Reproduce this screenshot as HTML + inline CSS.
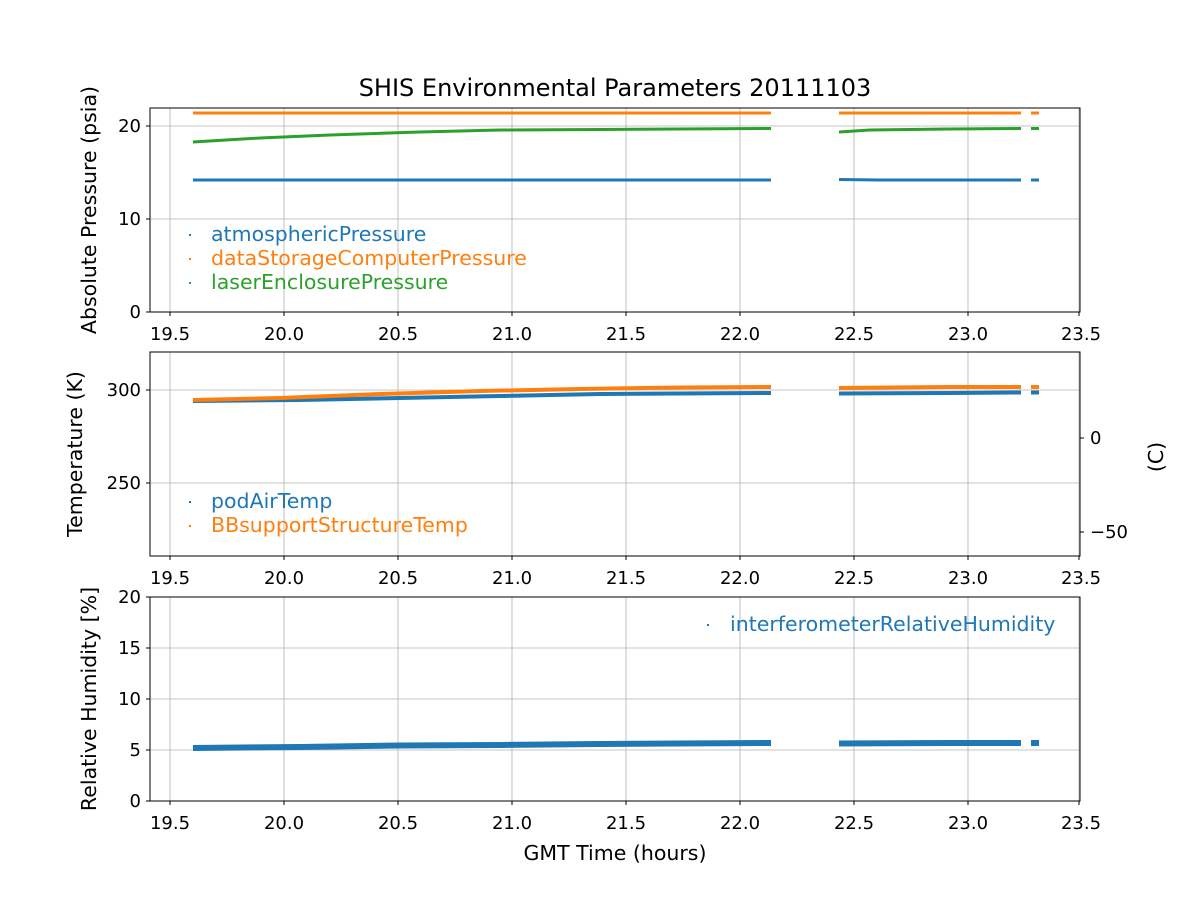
<!DOCTYPE html>
<html><head><meta charset="utf-8"><style>
body{margin:0;background:#fff}
svg text{font-family:"DejaVu Sans","Liberation Sans",sans-serif;fill:#000}
.t{font-size:18px}
.l{font-size:20.5px}
.g{font-size:20.5px}
.h{font-size:24px}
</style></head><body>
<svg width="1200" height="900" xmlns="http://www.w3.org/2000/svg">
<rect width="1200" height="900" fill="#fff"/>
<g stroke="#b0b0b0" stroke-width="0.8">
<g id="vg">
<line x1="170" y1="108" x2="170" y2="312"/><line x1="284" y1="108" x2="284" y2="312"/><line x1="398" y1="108" x2="398" y2="312"/><line x1="512" y1="108" x2="512" y2="312"/><line x1="626" y1="108" x2="626" y2="312"/><line x1="740" y1="108" x2="740" y2="312"/><line x1="854" y1="108" x2="854" y2="312"/><line x1="968" y1="108" x2="968" y2="312"/><line x1="1079" y1="108" x2="1079" y2="312"/>
</g>
<use href="#vg" y="244"/><use href="#vg" y="489"/>
<line x1="150" y1="126" x2="1080" y2="126"/><line x1="150" y1="219" x2="1080" y2="219"/>
<line x1="150" y1="390" x2="1080" y2="390"/><line x1="150" y1="483" x2="1080" y2="483"/>
<line x1="150" y1="648" x2="1080" y2="648"/><line x1="150" y1="699" x2="1080" y2="699"/><line x1="150" y1="750" x2="1080" y2="750"/>
</g>
<g fill="none" stroke-width="3">
<path d="M193 113H771M839 113H1021M1031 113H1039" stroke="#ff7f0e"/>
<path d="M193 142L260 138L330 135L420 132L500 130L600 129.5L771 128.5M839 132L870 130L950 129L1021 128.5M1031 128.5H1039" stroke="#2ca02c"/>
<path d="M193 180H771M839 179.5L880 180H1021M1031 180H1039" stroke="#1f77b4"/>
<path d="M193 401L300 400L400 398L500 396L600 394L771 393M839 393.5L950 393L1021 392.5M1031 392.5H1039" stroke="#1f77b4" stroke-width="4"/>
<path d="M193 400L280 398L380 394L480 391L580 389L680 387.5L771 387M839 388L950 387L1021 387M1031 387H1039" stroke="#ff7f0e" stroke-width="4"/>
<path d="M193 748L300 747L400 745.5L500 745L600 744L771 743M839 743.5L950 743L1021 743M1031 743H1039" stroke="#1f77b4" stroke-width="6"/>
</g>
<g fill="none" stroke="#000" stroke-width="1">
<rect x="150" y="108" width="930" height="204"/>
<rect x="150" y="352" width="930" height="204"/>
<rect x="150" y="597" width="930" height="204"/>
</g>
<g stroke="#000" stroke-width="1">
<path d="M170 312v4M284 312v4M398 312v4M512 312v4M626 312v4M740 312v4M854 312v4M968 312v4M1079 312v4"/>
<path d="M170 556v4M284 556v4M398 556v4M512 556v4M626 556v4M740 556v4M854 556v4M968 556v4M1079 556v4"/>
<path d="M170 801v4M284 801v4M398 801v4M512 801v4M626 801v4M740 801v4M854 801v4M968 801v4M1079 801v4"/>
<path d="M150 312h-4M150 219h-4M150 126h-4M150 390h-4M150 483h-4M150 801h-4M150 750h-4M150 699h-4M150 648h-4M150 597h-4"/>
<path d="M1080 438h4M1080 532h4"/>
</g>
<g text-anchor="middle">
<g id="xl"><text class="t" x="170" y="340">19.5</text><text class="t" x="284" y="340">20.0</text><text class="t" x="398" y="340">20.5</text><text class="t" x="512" y="340">21.0</text><text class="t" x="626" y="340">21.5</text><text class="t" x="740" y="340">22.0</text><text class="t" x="854" y="340">22.5</text><text class="t" x="968" y="340">23.0</text><text class="t" x="1081" y="340">23.5</text></g>
<use href="#xl" y="244"/><use href="#xl" y="489"/>
</g>
<text class="h" x="615" y="96" text-anchor="middle">SHIS Environmental Parameters 20111103</text>
<text class="l" x="615" y="860" text-anchor="middle">GMT Time (hours)</text>
<g text-anchor="end">
<text class="t" x="141" y="318">0</text><text class="t" x="141" y="225">10</text><text class="t" x="141" y="132">20</text>
<text class="t" x="141" y="396">300</text><text class="t" x="141" y="489">250</text>
<text class="t" x="141" y="807">0</text><text class="t" x="141" y="756">5</text><text class="t" x="141" y="705">10</text><text class="t" x="141" y="654">15</text><text class="t" x="141" y="603">20</text>
</g>
<text class="t" x="1090" y="444">0</text><text class="t" x="1090" y="538">−50</text>
<g text-anchor="middle">
<text class="l" transform="translate(96 210) rotate(-90)">Absolute Pressure (psia)</text>
<text class="l" transform="translate(82 454) rotate(-90)">Temperature (K)</text>
<text class="l" transform="translate(96 699) rotate(-90)">Relative Humidity [%]</text>
<text class="l" transform="translate(1163 457) rotate(-90)">(C)</text>
</g>
<text class="g" x="211" y="241" style="fill:#1f77b4">atmosphericPressure</text>
<text class="g" x="211" y="265" style="fill:#ff7f0e">dataStorageComputerPressure</text>
<text class="g" x="211" y="289" style="fill:#2ca02c">laserEnclosurePressure</text>
<text class="g" x="211" y="508" style="fill:#1f77b4">podAirTemp</text>
<text class="g" x="211" y="532" style="fill:#ff7f0e">BBsupportStructureTemp</text>
<text class="g" x="730" y="631" style="fill:#1f77b4">interferometerRelativeHumidity</text>
<rect x="189" y="234" width="2" height="2" fill="#1f77b4"/>
<rect x="189" y="258" width="2" height="2" fill="#ff7f0e"/>
<rect x="189" y="282" width="2" height="2" fill="#2ca02c"/>
<rect x="189" y="501" width="2" height="2" fill="#1f77b4"/>
<rect x="189" y="525" width="2" height="2" fill="#ff7f0e"/>
<rect x="707" y="624" width="2" height="2" fill="#1f77b4"/>
</svg>
</body></html>
